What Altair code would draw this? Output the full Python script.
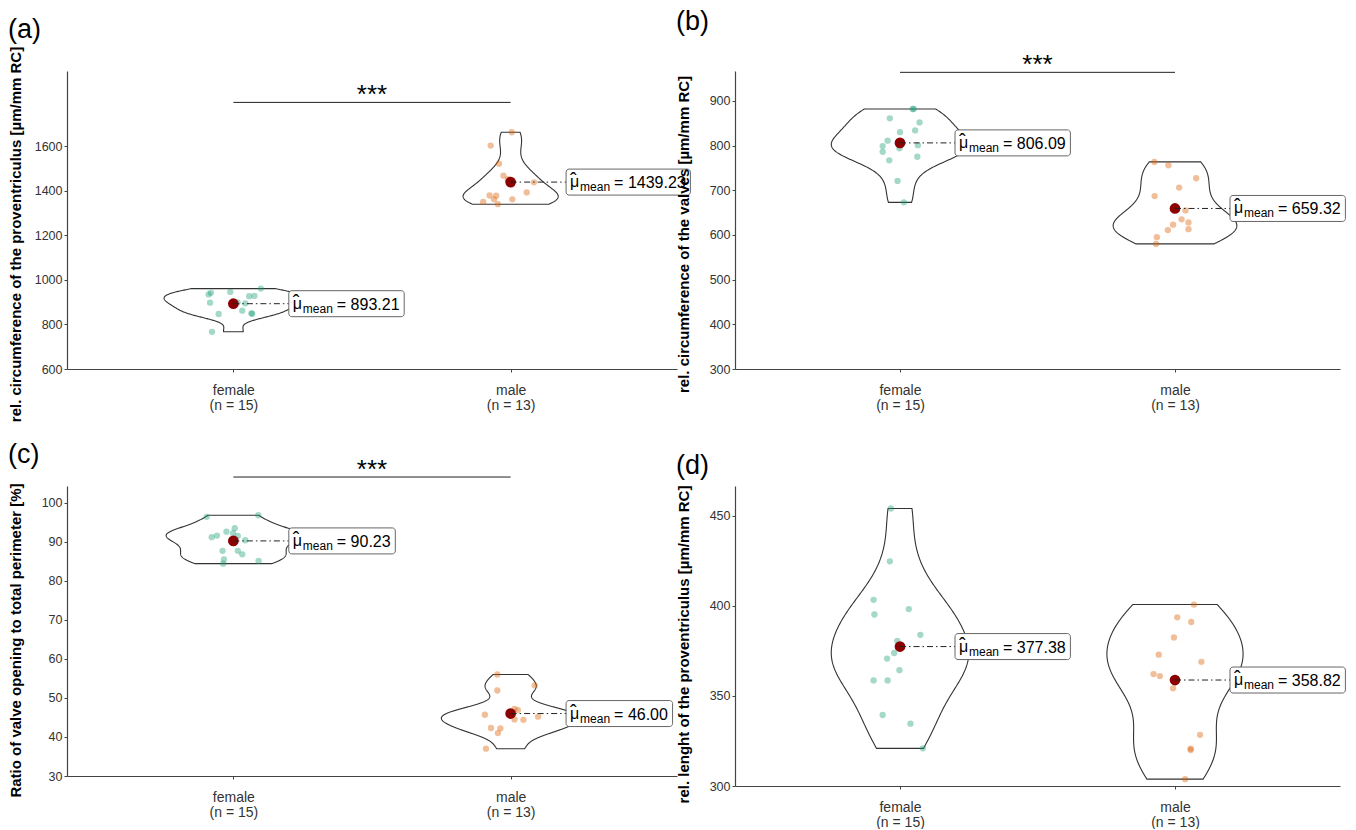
import altair as alt
import pandas as pd

GROUPS = ["female", "male"]
COLORS = ["#1B9E77", "#D95F02"]

# ---- panel (a) : rel. circumference of the proventriculus
a_female = [942, 935, 898, 946, 927, 928, 961, 895, 847, 862, 850, 848, 767, 893, 899]
a_female_jit = [-0.081, -0.089, -0.084, -0.011, 0.057, 0.076, 0.099, 0.043, -0.053, 0.032, 0.065, 0.068, -0.077, -0.005, 0.015]
a_male = [1663, 1603, 1522, 1468, 1438, 1393, 1379, 1378, 1362, 1362, 1350, 1340, 1452]
a_male_jit = [0.004, -0.072, -0.042, -0.026, 0.084, 0.058, -0.076, -0.052, -0.060, 0.006, -0.099, -0.046, -0.010]
a_means = [893.21, 1439.23]

# ---- panel (b) : rel. circumference of the valves
b_female = [882, 882, 861, 852, 830, 834, 811, 799, 801, 786, 794, 775, 767, 721, 673]
b_female_jit = [0.050, 0.046, -0.037, 0.071, 0.0, 0.055, -0.045, -0.063, 0.065, -0.063, -0.002, 0.063, -0.039, -0.009, 0.014]
b_male = [763.5, 756, 727, 706, 687, 655, 635, 628, 623, 613, 611, 595, 580]
b_male_jit = [-0.075, -0.024, 0.077, 0.015, -0.074, 0.038, 0.024, 0.049, -0.007, 0.049, -0.026, -0.066, -0.069]
b_means = [806.09, 659.32]

# ---- panel (c) : ratio of valve opening to total perimeter
c_female = [96.4, 96.8, 92.6, 92.2, 91.5, 91.6, 91.2, 90.4, 87.7, 87.7, 86.8, 85.5, 84.4, 85.1, 93.5]
c_female_jit = [-0.096, 0.090, -0.025, -0.001, 0.016, -0.059, -0.078, 0.043, -0.039, 0.016, 0.032, -0.034, -0.037, 0.091, 0.005]
c_male = [56.0, 51.9, 53.2, 47.2, 46.9, 45.2, 44.5, 44.4, 45.7, 42.3, 42.2, 41.0, 37.0]
c_male_jit = [-0.048, -0.048, 0.087, 0.014, 0.026, 0.099, 0.014, 0.046, -0.093, -0.071, -0.037, -0.046, -0.089]
c_means = [90.23, 46.00]

# ---- panel (d) : rel. length of the proventriculus
d_female = [454, 424.7, 403.3, 395.2, 398.2, 383.9, 373.8, 370.7, 364.3, 358.6, 358.6, 339.4, 334.6, 320.9, 380.5]
d_female_jit = [-0.033, -0.037, -0.096, -0.093, 0.032, 0.074, -0.021, -0.047, -0.002, -0.096, -0.045, -0.063, 0.038, 0.083, -0.010]
d_male = [400.7, 393.6, 391, 382.4, 372.9, 368.9, 362.1, 361, 354.2, 328.4, 320.7, 320, 303.8]
d_male_jit = [0.069, 0.008, 0.059, -0.004, -0.059, 0.096, -0.078, -0.055, -0.007, 0.091, 0.057, 0.057, 0.037]
d_means = [377.38, 358.82]

# significance bar heights (data units)
brackets = {"a": 1797, "b": 964, "c": 106.6}

TITLES = {
    "a": "rel. circumference of the proventriculus [µm/mm RC]",
    "b": "rel. circumference of the valves [µm/mm RC]",
    "c": "Ratio of valve opening to total perimeter [%]",
    "d": "rel. lenght of the proventriculus [µm/mm RC]",
}
Y_DOMAINS = {"a": [600, 1938], "b": [300, 967], "c": [30, 104.3], "d": [300, 466.5]}
Y_TICKS = {
    "a": [600, 800, 1000, 1200, 1400, 1600],
    "b": [300, 400, 500, 600, 700, 800, 900],
    "c": [30, 40, 50, 60, 70, 80, 90, 100],
    "d": [300, 350, 400, 450],
}

SANS = "Liberation Sans, Arial, Helvetica, sans-serif"


def panel(tag, fem, fem_j, mal, mal_j, means, width, height, title_shift, title_dy):
    pts = pd.DataFrame({
        "grp": [GROUPS[0]] * len(fem) + [GROUPS[1]] * len(mal),
        "idx": [1] * len(fem) + [2] * len(mal),
        "value": fem + mal,
        "jit": fem_j + mal_j,
    })
    mdf = pd.DataFrame({"idx": [1, 2], "mean": means})
    ppu = width / 2.2

    lab_expr = (f"datum.value == 1 ? ['{GROUPS[0]}', '(n = {len(fem)})'] "
                f": ['{GROUPS[1]}', '(n = {len(mal)})']")
    xs = alt.Scale(domain=[0.4, 2.6], nice=False, zero=False)
    ys = alt.Scale(domain=Y_DOMAINS[tag], nice=False, zero=False)
    xaxis = alt.Axis(values=[1, 2], title=None, grid=False, tickSize=3,
                     labelExpr=lab_expr, labelPadding=11, labelLineHeight=15,
                     labelFontSize=14)
    yaxis = alt.Axis(values=Y_TICKS[tag], format="d", title=TITLES[tag], grid=False,
                     tickSize=3, minExtent=35, maxExtent=35, titlePadding=9,
                     titleY=height / 2 + title_shift)

    def X(f):
        return alt.X(f, type="quantitative", scale=xs, axis=xaxis)

    def Y(f):
        return alt.Y(f, type="quantitative", scale=ys, axis=yaxis)

    violin = (
        alt.Chart(pts)
        .transform_calculate(v2="datum.value")
        .transform_fold(["value", "v2"], as_=["k", "vv"])
        .transform_density("vv", groupby=["idx"], resolve="independent",
                           steps=200, as_=["yv", "dens"])
        .transform_joinaggregate(maxd="max(dens)")
        .transform_calculate(lo="datum.idx - 0.25 * datum.dens / datum.maxd",
                             hi="datum.idx + 0.25 * datum.dens / datum.maxd")
        .mark_area(orient="horizontal", fill="white", fillOpacity=0,
                   stroke="#333333", strokeWidth=1.1)
        .encode(y=Y("yv"), x=X("lo"), x2=alt.X2("hi"), detail="idx:N")
    )

    points = (
        alt.Chart(pts)
        .transform_calculate(xj="datum.idx + datum.jit")
        .mark_circle(size=40, opacity=0.4)
        .encode(x=X("xj"), y=Y("value"),
                color=alt.Color("grp:N", scale=alt.Scale(domain=GROUPS, range=COLORS),
                                legend=None))
    )

    mbase = alt.Chart(mdf).transform_calculate(
        lx="datum.idx + 0.2",
        lx2=f"datum.idx + 0.2 + (62 + 8.9 * length(format(datum.mean, '.2f'))) / {ppu}",
        eq="'= ' + format(datum.mean, '.2f')",
    )
    meanpt = mbase.mark_circle(size=115, opacity=1, color="#8B0000").encode(
        x=X("idx"), y=Y("mean"))
    dash = mbase.mark_rule(strokeDash=[6, 3, 1.5, 3], color="#222222", strokeWidth=1).encode(
        x=X("idx"), x2=alt.X2("lx"), y=Y("mean"))
    box = mbase.mark_rect(fill="white", stroke="#666666", strokeWidth=1, cornerRadius=3,
                          yOffset=-13, y2Offset=13).encode(
        x=X("lx"), x2=alt.X2("lx2"), y=Y("mean"), y2=alt.Y2("mean"))
    mu = mbase.mark_text(text="μ", align="left", baseline="alphabetic", dx=4, dy=5,
                         fontSize=16, font=SANS, color="black").encode(x=X("lx"), y=Y("mean"))
    hat = mbase.mark_text(text="ˆ", align="left", baseline="alphabetic", dx=4, dy=5,
                          fontSize=20, font=SANS, color="black").encode(x=X("lx"), y=Y("mean"))
    sub = mbase.mark_text(text="mean", align="left", baseline="alphabetic", dx=14, dy=9,
                          fontSize=12, font=SANS, color="black").encode(x=X("lx"), y=Y("mean"))
    num = mbase.mark_text(align="left", baseline="alphabetic", dx=48, dy=6,
                          fontSize=16, font=SANS, color="black").encode(
        x=X("lx"), y=Y("mean"), text="eq:N")

    layers = [violin, points, meanpt, dash, box, hat, mu, sub, num]

    if tag in brackets:
        bdf = pd.DataFrame({"x1": [1], "x2": [2], "y": [brackets[tag]]})
        brule = alt.Chart(bdf).mark_rule(color="#222222", strokeWidth=1).encode(
            x=X("x1"), x2=alt.X2("x2"), y=Y("y"))
        stars = (alt.Chart(bdf).transform_calculate(xm="(datum.x1 + datum.x2) / 2")
                 .mark_text(text="***", fontSize=26, baseline="alphabetic", dy=1,
                            font=SANS, color="black")
                 .encode(x=X("xm"), y=Y("y")))
        layers += [brule, stars]

    return alt.layer(*layers).properties(
        width=width, height=height,
        title=alt.TitleParams(f"({tag})", anchor="start", frame="bounds", fontSize=27,
                              fontWeight="normal", font=SANS, color="black",
                              offset=2, dy=title_dy),
    )


pa = panel("a", a_female, a_female_jit, a_male, a_male_jit, a_means, 610, 298, 14, 0)
pb = panel("b", b_female, b_female_jit, b_male, b_male_jit, b_means, 605, 298, 14, -14)
pc = panel("c", c_female, c_female_jit, c_male, c_male_jit, c_means, 610, 290, 9, 14)
pd_ = panel("d", d_female, d_female_jit, d_male, d_male_jit, d_means, 605, 300, 8, -3)

chart = (
    alt.concat(pa, pb, pc, pd_, columns=2, bounds="flush",
               spacing=alt.RowColnumber(row=117, column=58))
    .properties(padding=0)
    .configure_view(stroke=None)
    .configure_axis(labelFont=SANS, labelFontSize=12.5, labelColor="#333333",
                    titleFont=SANS, titleFontSize=15, titleFontWeight="bold",
                    titleColor="black", domainColor="#444444", domainWidth=1.2,
                    tickColor="#444444")
)

chart.save("out.html", embed_options={"renderer": "svg", "actions": False})
